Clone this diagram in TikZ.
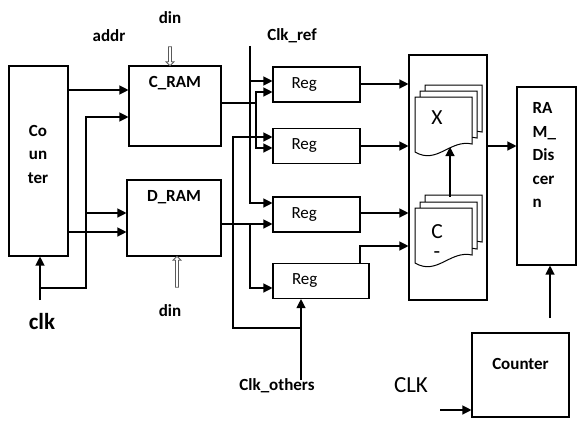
\documentclass[tikz,border=0pt]{standalone}
\usepackage{fontspec}
\setmainfont{Carlito}
\usepackage{tikz}
\usetikzlibrary{arrows.meta,positioning,shapes.arrows}

\tikzset{docpage/.pic={
  \draw[fill=white, line width=1pt] (0,0) -- (57,0) -- (57,47)
    .. controls (35,42) and (22,68) .. (0,55) -- cycle;}}

\begin{document}
\begin{tikzpicture}[x=1pt, y=-1pt,
  font=\fontsize{17}{24}\selectfont,
  box/.style={draw, line width=1.1pt, inner sep=0pt},
  ttl/.style={font=\fontsize{17}{23.5}\selectfont\bfseries, inner sep=2pt, align=center},
  regbox/.style={box, minimum width=87pt, minimum height=35pt, text width=50pt, align=left},
  lbl/.style={font=\fontsize{17}{20}\selectfont\bfseries, inner sep=1pt},
  big/.style={font=\fontsize{21.5}{24}\selectfont, inner sep=1pt},
  hol/.style={draw=black!65, fill=white, single arrow, minimum height=20pt, minimum width=8pt,
              single arrow head extend=2pt, inner sep=0.8pt, line width=0.8pt},
  arr/.style={-{Triangle[length=9pt, width=9pt]}, line width=1.2pt}]
  \useasboundingbox (0,0) rectangle (577,420);
  % blocks
  \node[box, minimum width=59pt, minimum height=190pt] (cnt) at (38.5,161) {};
  \node[ttl] (cntt) at (38,154) {Co\\un\\ter};
  \node[box, minimum width=92pt, minimum height=80pt] (cram) at (175,106) {};
  \node[ttl, below=9pt of cram.north] (cramt) {C\_RAM};
  \node[box, minimum width=94pt, minimum height=76pt] (dram) at (174,218) {};
  \node[ttl, below=9pt of dram.north] (dramt) {D\_RAM};
  \node[regbox] (reg1) at (316.5,84.5) {Reg};
  \node[regbox] (reg2) at (316.5,146) {Reg};
  \node[regbox] (reg3) at (316.5,214.5) {Reg};
  \node[regbox, minimum width=96pt, text width=58pt] (reg4) at (321,281) {Reg};
  \node[box, minimum width=78pt, minimum height=245pt] (mux) at (448,177.5) {};
  \foreach \d/\e in {10/12, 5/6, 0/0} \pic at (415+\d, 97-\e) {docpage};
  \foreach \d/\e in {10/13, 5/6, 0/0} \pic at (415+\d, 208-\e) {docpage};
  \node[big] (xdoc) at (437,118) {X};
  \node[big, align=center, anchor=north] (cdoc) at (437,223) {C\\[-4pt]-};
  \node[box, minimum width=59pt, minimum height=178pt] (rdis) at (546.5,176) {};
  \node[ttl, align=left, anchor=north west, below right=14pt and 14pt of rdis.north west] (rdist) {RA\\M\_\\Dis\\cer\\n};
  \node[box, minimum width=97pt, minimum height=84pt] (cnt2) at (520.5,375) {};
  \node[ttl, below=24pt of cnt2.north] (cnt2t) {Counter};
  % labels
  \node[lbl] (addr) at (109,36) {addr};
  \node[lbl] (dintop) at (170,18) {din};
  \node[lbl] (dinbot) at (170,311) {din};
  \node[lbl] (clkref) at (292,36) {Clk\_ref};
  \node[lbl] (clkoth) at (277,386) {Clk\_others};
  \node[font=\fontsize{23}{24}\selectfont\bfseries, inner sep=1pt] (clk) at (42,322) {clk};
  \node[font=\fontsize{23}{24}\selectfont, inner sep=1pt] (clkbig) at (411,385) {CLK};
  \node[hol, rotate=-90, minimum height=19pt] (dina) at (170,55.5) {};
  \node[hol, rotate=90, minimum height=31pt] (dinb) at (177,272.5) {};
  % wires
  \coordinate (clkin) at (40,300);
  \coordinate (ckj) at (40,288);
  \coordinate (cref) at (250,46);
  \coordinate (coth) at (301,380);
  \coordinate (ctop) at (450,197);
  \coordinate (xbot) at (450,147);
  \coordinate (cup) at (550,318);
  \coordinate (clkb) at (440,410);
  \draw[arr] (clkin) -- (clkin |- cnt.south);
  \draw[arr] (cnt.east |- 0,90) -- (cram.west |- 0,90);
  \draw[arr] (cnt.east |- 0,232) -- (dram.west |- 0,232);
  \draw[arr] (ckj) -| (86,117) -- (cram.west |- 0,117);
  \draw[arr] (86,213) -- (dram.west |- 0,213);
  \draw[arr] (cref) |- (reg3.west |- 0,203);
  \draw[arr] (250,81) -- (reg1.west |- 0,81);
  \draw[arr] (cram.east |- 0,103) -| (256,92) -- (reg1.west |- 0,92);
  \draw[arr] (256,103) |- (reg2.west |- 0,148);
  \draw[arr] (coth) -- (reg4.south -| 301,0);
  \draw[arr] (301,328) -| (233,137) -- (reg2.west |- 0,137);
  \draw[arr] (dram.east |- 0,224) -- (reg3.west |- 0,224);
  \draw[arr] (250,224) |- (reg4.west |- 0,288);
  \draw[arr] (reg1.east |- 0,84) -- (mux.west |- 0,84);
  \draw[arr] (reg2.east) -- (reg2.east -| mux.west);
  \draw[arr] (reg3.east |- 0,213) -- (mux.west |- 0,213);
  \draw[arr] (reg4.north -| 360,0) |- (mux.west |- 0,246);
  \draw[arr] (ctop) -- (xbot);
  \draw[arr] (mux.east |- 0,146) -- (rdis.west |- 0,146);
  \draw[arr] (cup) -- (cup |- rdis.south);
  \draw[arr] (clkb) -- (clkb -| cnt2.west);
\end{tikzpicture}
\end{document}
